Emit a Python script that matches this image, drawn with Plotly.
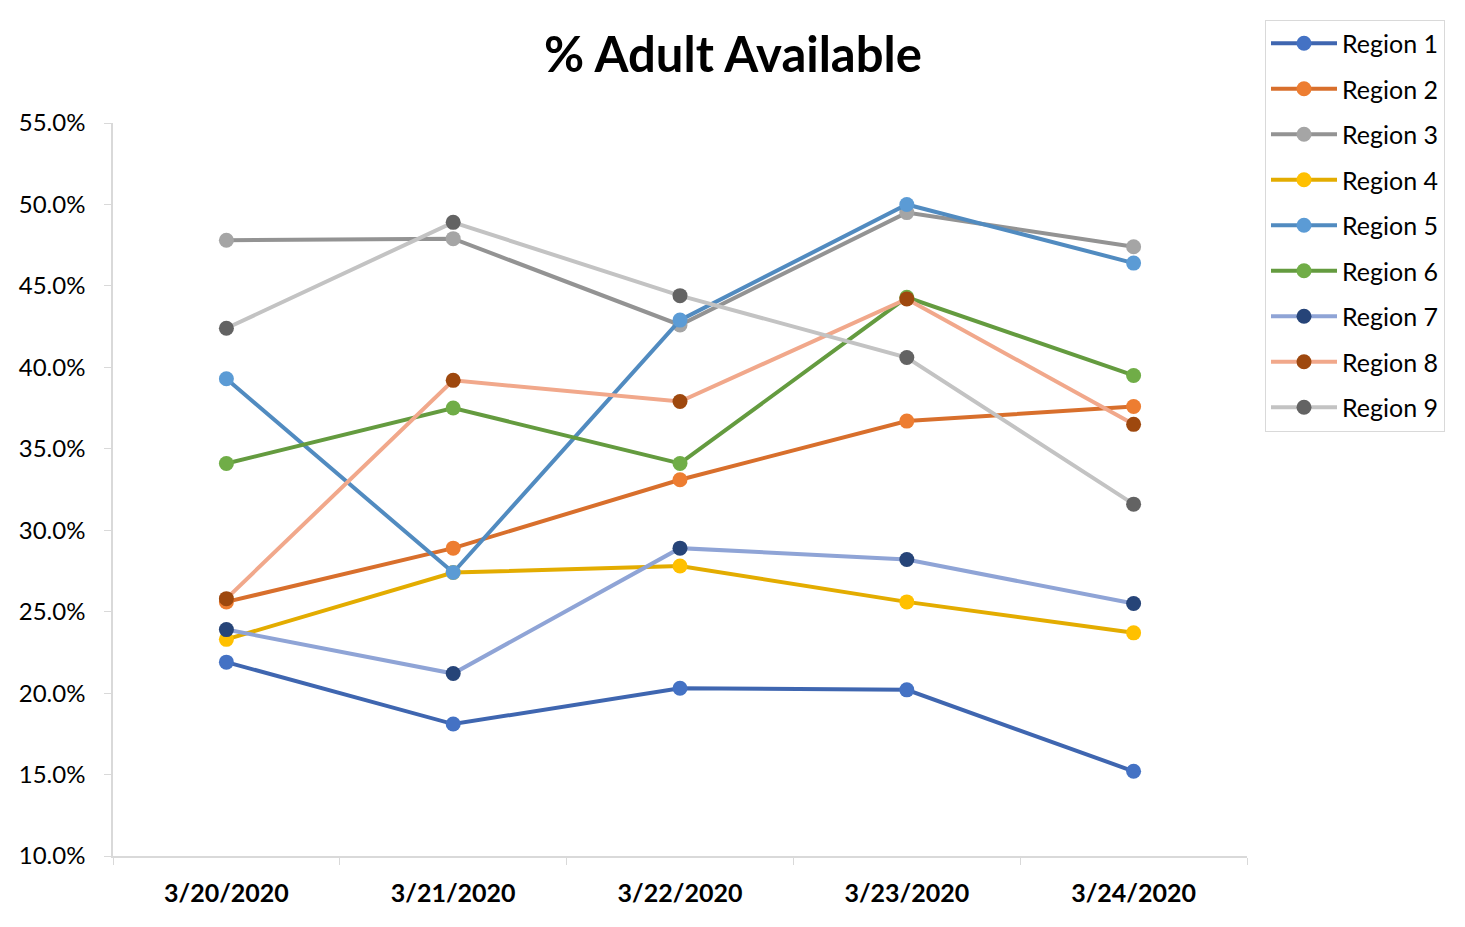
import plotly.graph_objects as go

dates = ["3/20/2020", "3/21/2020", "3/22/2020", "3/23/2020", "3/24/2020"]

region_1 = [0.219, 0.181, 0.203, 0.202, 0.152]
region_2 = [0.256, 0.289, 0.331, 0.367, 0.376]
region_3 = [0.478, 0.479, 0.426, 0.495, 0.474]
region_4 = [0.233, 0.274, 0.278, 0.256, 0.237]
region_5 = [0.393, 0.274, 0.429, 0.500, 0.464]
region_6 = [0.341, 0.375, 0.341, 0.443, 0.395]
region_7 = [0.239, 0.212, 0.289, 0.282, 0.255]
region_8 = [0.258, 0.392, 0.379, 0.442, 0.365]
region_9 = [0.424, 0.489, 0.444, 0.406, 0.316]

names = [f"Region {i}" for i in range(1, 10)]
series = [region_1, region_2, region_3, region_4, region_5,
          region_6, region_7, region_8, region_9]

# (line colour, marker colour) - Excel style, line a shade off the marker
colors = [
    ("#3F66B0", "#4472C4"),
    ("#D86F2C", "#ED7D31"),
    ("#939393", "#A5A5A5"),
    ("#E3AC00", "#FFC000"),
    ("#518BC0", "#5B9BD5"),
    ("#649B3F", "#70AD47"),
    ("#8FA4D6", "#264478"),
    ("#F1A88B", "#9E480E"),
    ("#C3C3C3", "#636363"),
]

FONT = "Lato, 'Open Sans', sans-serif"

fig = go.Figure()
for name, vals, (lc, mc) in zip(names, series, colors):
    fig.add_trace(
        go.Scatter(
            x=dates,
            y=vals,
            name=name,
            legendgroup=name,
            mode="lines+markers",
            line={"color": lc, "width": 4},
            marker={"color": mc, "size": 15},
        )
    )

# page body has an 8px margin, so the figure is shrunk by 8px to fit the window
W, H = 1457, 919
fig.update_layout(
    width=W,
    height=H,
    paper_bgcolor="white",
    plot_bgcolor="white",
    margin={"l": 105, "r": 218, "t": 111, "b": 71},
    font={"family": FONT, "color": "#000000"},
    title={
        "text": "<b>% Adult Available</b>",
        "x": (733 - 8) / W,
        "xanchor": "center",
        "y": 1 - 47 / H,
        "yanchor": "middle",
        "font": {"size": 49, "family": FONT},
    },
    legend={
        "x": (1265 - 113) / 1134,
        "y": (856 - 15) / 737,
        "xanchor": "left",
        "yanchor": "top",
        "bordercolor": "#D9D9D9",
        "borderwidth": 1,
        "font": {"size": 25},
        "tracegroupgap": 10,
        "itemwidth": 66,
    },
    xaxis={
        "type": "category",
        "range": [-0.5, 4.5],
        "automargin": False,
        "showgrid": False,
        "showline": True,
        "linecolor": "#D9D9D9",
        "linewidth": 1.5,
        "ticks": "outside",
        "tickson": "boundaries",
        "ticklen": 7,
        "tickcolor": "#D9D9D9",
        "tickfont": {"size": 25, "family": FONT},
        "ticklabelstandoff": 14,
        "tickprefix": "<b>",
        "ticksuffix": "</b>",
    },
    yaxis={
        "range": [0.10, 0.55],
        "dtick": 0.05,
        "tickformat": ".1%",
        "automargin": False,
        "showgrid": False,
        "zeroline": False,
        "showline": True,
        "linecolor": "#D9D9D9",
        "linewidth": 1.5,
        "ticks": "outside",
        "ticklen": 7,
        "tickcolor": "#D9D9D9",
        "tickfont": {"size": 24, "family": FONT},
        "ticklabelstandoff": 14,
    },
)

fig.write_html("out.html")
